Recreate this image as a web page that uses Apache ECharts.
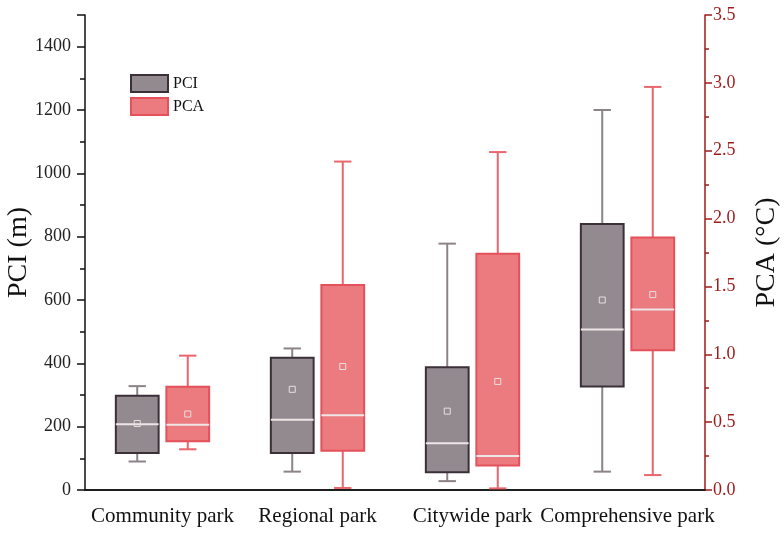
<!DOCTYPE html>
<html>
<head>
    <meta charset="utf-8">
    <title>PCI / PCA by park type</title>
    <script src="https://cdn.jsdelivr.net/npm/echarts@6/dist/echarts.min.js"></script>
    <style>
        html, body { margin: 0; padding: 0; background: #fff; }
        #chart { width: 784px; height: 533px; }
    </style>
</head>
<body>
<div id="chart"></div>
<script>
    var categories = ['Community park', 'Regional park', 'Citywide park', 'Comprehensive park'];

    // each row: lower whisker, Q1, median, Q3, upper whisker, mean
    var pciStats = [
        [90, 117, 208, 298, 328, 210],
        [58, 117, 222, 418, 447, 318],
        [28, 56, 148, 388, 778, 249],
        [58, 327, 507, 840, 1200, 600]
    ];
    var pcaStats = [
        [0.30, 0.36, 0.48, 0.76, 0.99, 0.56],
        [0.015, 0.29, 0.55, 1.51, 2.42, 0.91],
        [0.012, 0.18, 0.25, 1.74, 2.49, 0.80],
        [0.11, 1.03, 1.33, 1.86, 2.97, 1.44]
    ];

    // axis ranges / tick steps
    var pciMax = 1500, pciStep = 200;
    var pcaMax = 3.5, pcaStep = 0.5;

    var serif = "'Liberation Serif', 'Times New Roman', serif";
    var chart = echarts.init(document.getElementById('chart'));

    function rows(stats) {
        return stats.map(function (s, i) {
            return [i].concat(s);
        });
    }

    // draws one box: shift / width given as fraction of the category band
    function boxRenderer(shift, c) {
        return function (params, api) {
            var band = api.size([1, 0])[0];
            var cat = api.value(0);
            var cx = api.coord([cat, 0])[0] + shift * band;
            var half = 0.138 * band;
            var cap = 0.056 * band;
            function y(i) { return api.coord([cat, api.value(i)])[1]; }
            var lo = y(1), q1 = y(2), med = y(3), q3 = y(4), hi = y(5), mean = y(6);
            var wStyle = {stroke: c.whisker, lineWidth: 2};
            return {
                type: 'group',
                children: [
                    {type: 'line', shape: {x1: cx, y1: lo, x2: cx, y2: q1}, style: wStyle},
                    {type: 'line', shape: {x1: cx, y1: q3, x2: cx, y2: hi}, style: wStyle},
                    {type: 'line', shape: {x1: cx - cap, y1: lo, x2: cx + cap, y2: lo}, style: wStyle},
                    {type: 'line', shape: {x1: cx - cap, y1: hi, x2: cx + cap, y2: hi}, style: wStyle},
                    {type: 'rect', shape: {x: cx - half, y: q3, width: half * 2, height: q1 - q3},
                        style: {fill: c.fill, stroke: c.border, lineWidth: 2}},
                    {type: 'line', shape: {x1: cx - half, y1: med, x2: cx + half, y2: med},
                        style: {stroke: '#eee6e6', lineWidth: 2}},
                    {type: 'rect', shape: {x: cx - 3, y: mean - 3, width: 6, height: 6},
                        style: {fill: 'none', stroke: '#e6dfe0', lineWidth: 1}}
                ]
            };
        };
    }

    var pciColors = {fill: '#938a90', border: '#3b3038', whisker: '#8c8388'};
    var pcaColors = {fill: '#ec7b7f', border: '#e4515a', whisker: '#e9666d'};
    var red = '#9e1b1b';

    var option = {
        animation: false,
        backgroundColor: '#fff',
        grid: {left: 85, right: 79, top: 15, bottom: 43, containLabel: false, outerBoundsMode: 'none'},
        legend: {
            orient: 'vertical',
            left: 125,
            top: 69,
            itemWidth: 37,
            itemHeight: 17,
            itemGap: 4,
            icon: 'rect',
            textStyle: {fontFamily: serif, fontSize: 16, color: '#111'},
            data: [
                {name: 'PCI', itemStyle: {color: pciColors.fill, borderColor: pciColors.border, borderWidth: 2}},
                {name: 'PCA', itemStyle: {color: pcaColors.fill, borderColor: pcaColors.border, borderWidth: 2}}
            ]
        },
        xAxis: [
            {
                type: 'category',
                data: categories,
                axisLine: {lineStyle: {color: '#111', width: 1.5}},
                axisTick: {alignWithLabel: true, inside: false, length: 6, lineStyle: {color: '#111', width: 1.5}},
                axisLabel: {interval: 0, fontFamily: serif, fontSize: 21, color: '#111', margin: 16},
                splitLine: {show: false}
            },
            {
                type: 'category',
                position: 'top',
                data: categories,
                axisLine: {lineStyle: {color: '#111', width: 1.5}},
                axisTick: {show: false},
                axisLabel: {show: false}
            }
        ],
        yAxis: [
            {
                type: 'value',
                position: 'left',
                min: 0,
                max: pciMax,
                interval: pciStep,
                name: 'PCI (m)',
                nameLocation: 'middle',
                nameGap: 52,
                nameMoveOverlap: false,
                nameTextStyle: {fontFamily: serif, fontSize: 28, color: '#111'},
                axisLine: {show: true, lineStyle: {color: '#111', width: 1.5}},
                axisTick: {show: true, inside: false, length: 8, lineStyle: {color: '#111', width: 1.5}},
                minorTick: {show: true, splitNumber: 2, length: 5, lineStyle: {color: '#111', width: 1.5}},
                axisLabel: {
                    fontFamily: serif, fontSize: 18, color: '#222', margin: 14, showMaxLabel: false,
                    formatter: function (v) { return String(v); }
                },
                splitLine: {show: false}
            },
            {
                type: 'value',
                position: 'right',
                min: 0,
                max: pcaMax,
                interval: pcaStep,
                name: 'PCA (°C)',
                nameLocation: 'middle',
                nameRotate: 90,
                nameGap: 48,
                nameMoveOverlap: false,
                nameTextStyle: {fontFamily: serif, fontSize: 28, color: '#111'},
                axisLine: {show: true, lineStyle: {color: red, width: 1.5}},
                axisTick: {show: true, inside: false, length: 7, lineStyle: {color: red, width: 1.5}},
                minorTick: {show: true, splitNumber: 2, length: 4, lineStyle: {color: red, width: 1.5}},
                axisLabel: {
                    fontFamily: serif, fontSize: 18, color: red, margin: 8,
                    formatter: function (v) { return v.toFixed(1); }
                },
                splitLine: {show: false}
            }
        ],
        series: [
            {
                name: 'PCI',
                type: 'custom',
                xAxisIndex: 0,
                yAxisIndex: 0,
                itemStyle: {color: pciColors.fill},
                encode: {x: 0, y: [1, 2, 3, 4, 5, 6]},
                renderItem: boxRenderer(-0.163, pciColors),
                data: rows(pciStats)
            },
            {
                name: 'PCA',
                type: 'custom',
                xAxisIndex: 0,
                yAxisIndex: 1,
                itemStyle: {color: pcaColors.fill},
                encode: {x: 0, y: [1, 2, 3, 4, 5, 6]},
                renderItem: boxRenderer(0.163, pcaColors),
                data: rows(pcaStats)
            }
        ]
    };

    chart.setOption(option);
</script>
</body>
</html>
